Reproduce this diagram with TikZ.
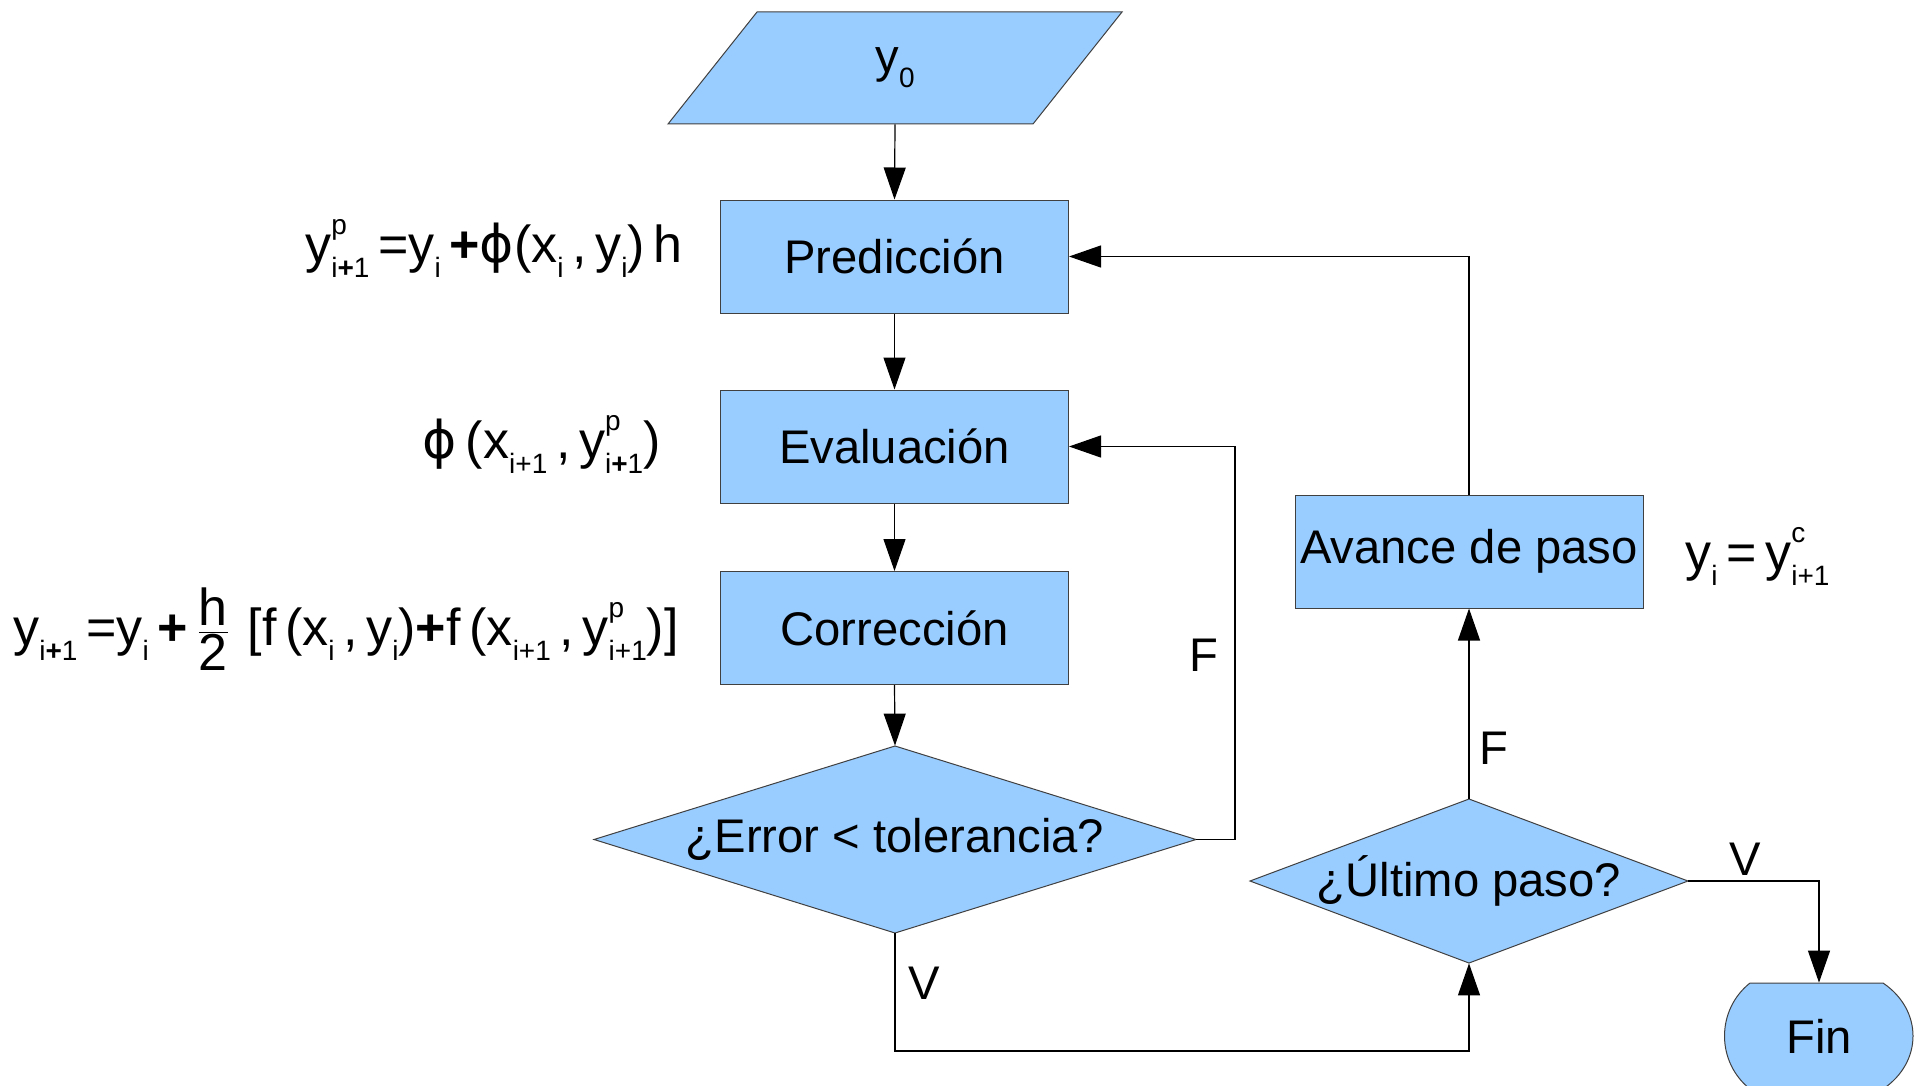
\documentclass[tikz,border=0pt]{standalone}
\usepackage{fontspec}
\setmainfont{Liberation Sans}
\newfontfamily\djv{DejaVu Sans}
\usepackage{graphicx}
\usetikzlibrary{arrows.meta}
\definecolor{boxblue}{HTML}{99CCFF}
\newcommand\fsub[1]{\raisebox{-7.5pt}{\fontsize{14}{14}\selectfont #1}}
\newcommand\fsup[2]{\makebox[0pt][l]{\raisebox{14pt}{\fontsize{14}{14}\selectfont #1}}\raisebox{-7.5pt}{\fontsize{14}{14}\selectfont #2}}
\newcommand\ysub[1]{\raisebox{-7.5pt}{\fontsize{14}{14}\selectfont #1}}
\newcommand\phisym{{\djv ϕ}}
\begin{document}
\begin{tikzpicture}[x=0.5pt,y=-0.5pt,
  box/.style={draw=black!75, line width=0.5pt, fill=boxblue},
  lbl/.style={font=\fontsize{23.6}{28}\selectfont, inner sep=0pt},
  procbox/.style={box, lbl, minimum width=174pt, minimum height=56.5pt},
  frm/.style={font=\fontsize{26}{32}\selectfont, inner sep=0pt},
  arr/.style={-{Triangle[length=16pt,width=11pt]}, line width=0.6pt}
]
\useasboundingbox (0,0) rectangle (1927,1086);

% input parallelogram
\filldraw[box] (757,12) -- (1122,12) -- (1033,124) -- (668,124) -- cycle;
\node[lbl, minimum height=56pt] (y0) at (895,68) {y\ysub{0}};

% process boxes
\node[procbox] (pred) at (894.5,256.5) {Predicción};
\node[procbox] (eva) at (894.5,446.5) {Evaluación};
\node[procbox] (cor) at (894.5,628) {Corrección};
\node[procbox] (av) at (1469,551.5) {Avance de paso};

% decisions
\filldraw[box] (594,839.5) -- (895,746) -- (1196,839.5) -- (895,933) -- cycle;
\node[lbl, minimum width=301pt, minimum height=93.5pt] (err) at (895,839.5) {¿Error < tolerancia?};
\filldraw[box] (1250,881) -- (1469,799) -- (1688,881) -- (1469,963) -- cycle;
\node[lbl, minimum width=219pt, minimum height=82pt] (ult) at (1469,881) {¿Último paso?};

% terminator
\filldraw[box] (1750,983) -- (1883,983) .. controls (1923,1010) and (1923,1062) .. (1883,1089)
  -- (1750,1089) .. controls (1716,1062) and (1716,1010) .. (1750,983) -- cycle;
\node[lbl, minimum height=53pt] (fin) at (1819,1036) {Fin};

% connectors
\draw[arr] (y0.south) -- (pred.north);
\draw[arr] (pred.south) -- (eva.north);
\draw[arr] (eva.south) -- (cor.north);
\draw[arr] (cor.south) -- (err.north);
\coordinate (c1) at (1235,446.5);
\draw[arr] (err.east) -| (c1) -- (eva.east);
\coordinate (c2) at (895,1051);
\draw[arr] (err.south) -- (c2) -| (ult.south);
\draw[arr] (ult.north) -- (av.south);
\draw[arr] (av.north) |- (pred.east);
\draw[arr] (ult.east) -| (fin.north);

% branch labels
\node[lbl] (lf1) at (1204,655) {F};
\node[lbl] (lv1) at (924,983) {V};
\node[lbl] (lf2) at (1494,748) {F};
\node[lbl] (lv2) at (1745,859) {V};

% formulas
\node[frm, anchor=base east] (f1) at (683,262)
  {y\fsup{p}{i\textbf{+}1}\,=y\fsub{i}\,\textbf{+}\phisym(x\fsub{i}\,,\,y\fsub{i})\,h};
\node[frm, anchor=base east] (f2) at (661,458)
  {\phisym\,(x\fsub{i+1}\,,\,y\fsup{p}{i\textbf{+}1})};
\node[frm, anchor=base east] (f3) at (679,645)
  {y\fsub{i\textbf{+}1}\,=y\fsub{i}\,\textbf{+}\,$\frac{\mbox{h}}{\mbox{2}}$\,\,[f\,(x\fsub{i}\,,\,y\fsub{i})\textbf{+}f\,(x\fsub{i+1}\,,\,y\fsup{p}{i+1})]};
\node[frm, anchor=base west] (f4) at (1685,570)
  {y\fsub{i}\,=\,y\fsup{c}{i+1}};
\end{tikzpicture}
\end{document}
